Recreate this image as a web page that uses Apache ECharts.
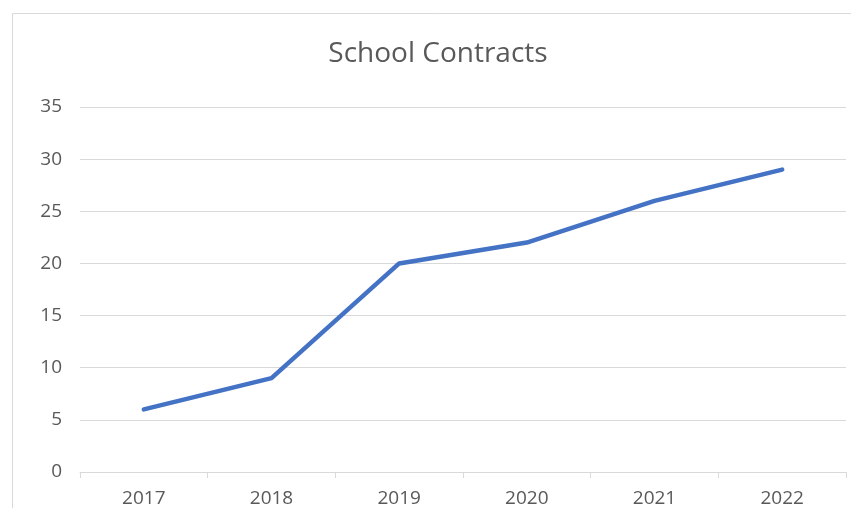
<!DOCTYPE html>
<html>
<head>
<meta charset="utf-8">
<script src="https://cdn.jsdelivr.net/npm/echarts@6/dist/echarts.min.js"></script>
<style>
  html, body { margin: 0; padding: 0; background: #fff; }
  #chart { width: 851px; height: 508px; }
</style>
</head>
<body>
<div id="chart"></div>
<script>
// school contracts per year
var years = ['2017', '2018', '2019', '2020', '2021', '2022'];
var contracts = [6, 9, 20, 22, 26, 29];

function renderSchoolContracts() {
    var dom = document.getElementById('chart');
    var myChart = echarts.init(dom);

    var option = {
        backgroundColor: '#FFFFFF',
        textStyle: {
            fontFamily: 'Open Sans'
        },
        title: {
            text: 'School Contracts',
            left: 433,
            top: 35,
            textAlign: 'center',
            textStyle: {
                fontSize: 28,
                fontWeight: 'normal',
                color: '#595959'
            }
        },
        graphic: [{
            type: 'rect',
            shape: { x: 12.5, y: 13.5, width: 860, height: 520 },
            style: { fill: 'none', stroke: '#d9d9d9', lineWidth: 1 },
            silent: true
        }],
        grid: {
            top: 107,
            bottom: 35,
            left: 80,
            right: 5
        },
        xAxis: {
            type: 'category',
            data: years,
            axisLine: { lineStyle: { color: '#d9d9d9', width: 1 } },
            axisTick: { show: true, length: 6, lineStyle: { color: '#d9d9d9' } },
            axisLabel: { color: '#595959', fontSize: 19, margin: 17 }
        },
        yAxis: {
            type: 'value',
            min: 0,
            max: 35,
            interval: 5,
            axisLine: { show: false },
            axisTick: { show: false },
            splitLine: { lineStyle: { color: '#d9d9d9', width: 1 } },
            axisLabel: { color: '#595959', fontSize: 19, margin: 18 }
        },
        series: [{
            type: 'line',
            data: contracts,
            symbol: 'none',
            lineStyle: { color: '#4472C4', width: 4.5, cap: 'round' },
            itemStyle: { color: '#4472C4' }
        }]
    };

    myChart.setOption(option);

    window.onresize = function() {
        myChart.resize();
    };
}
renderSchoolContracts();
</script>
</body>
</html>
